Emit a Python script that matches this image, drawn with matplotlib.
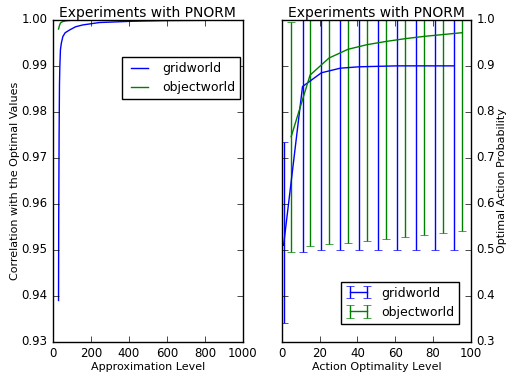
import matplotlib
matplotlib.use("Agg")
import matplotlib.pyplot as plt

# left panel: correlation vs approximation level
grid_x = [30, 31, 33, 35, 37, 40, 45, 53, 65, 88, 120, 158, 245, 420, 600, 800, 1000]
grid_y = [0.939, 0.957, 0.975, 0.986, 0.990, 0.9935, 0.995, 0.9964, 0.9972, 0.9978,
          0.9985, 0.9989, 0.99942, 0.9997, 0.99985, 0.9999, 0.99995]
obj_x = [30, 35, 40, 50, 70, 100, 200, 400, 1000]
obj_y = [0.998, 0.9988, 0.9993, 0.9996, 0.9998, 0.99992, 0.99998, 1.0, 1.0]

# right panel: optimal action probability vs action optimality level
grid_lvl = [1, 11, 21, 31, 41, 51, 61, 71, 81, 91]
grid_prob = [0.51, 0.855, 0.885, 0.895, 0.898, 0.899, 0.9, 0.9, 0.9, 0.9]
grid_err_lo = [0.168, 0.36, 0.385, 0.395, 0.398, 0.399, 0.4, 0.4, 0.4, 0.4]
grid_err_hi = [0.225, 0.36, 0.385, 0.395, 0.398, 0.399, 0.4, 0.4, 0.4, 0.4]
obj_lvl = [5, 15, 25, 35, 45, 55, 65, 75, 85, 95]
obj_prob = [0.746, 0.88, 0.917, 0.936, 0.946, 0.953, 0.959, 0.964, 0.968, 0.972]
obj_err = [0.25, 0.372, 0.405, 0.421, 0.426, 0.43, 0.431, 0.431, 0.431, 0.43]

plt.style.use("classic")
plt.rcParams["figure.facecolor"] = "white"
plt.rcParams["savefig.facecolor"] = "white"

fig = plt.figure(figsize=(5.08, 3.82), dpi=100)
ax1 = fig.add_axes([0.104, 0.105, 0.374, 0.843])
ax2 = fig.add_axes([0.5545, 0.105, 0.3726, 0.843])

ax1.plot(grid_x, grid_y, color="b", label="gridworld")
ax1.plot(obj_x, obj_y, color="g", label="objectworld")
ax1.set_xlim(0, 1000)
ax1.set_ylim(0.93, 1.0)
ax1.set_title("Experiments with PNORM", fontsize=10, pad=2)
ax1.set_xlabel("Approximation Level", fontsize=8, labelpad=1)
ax1.set_ylabel("Correlation with the Optimal Values", fontsize=8, labelpad=1)
ax1.tick_params(labelsize=8.5)
ax1.legend(loc="upper right", bbox_to_anchor=(0.985, 0.885), borderaxespad=0,
           fontsize=9)

ax2.errorbar(grid_lvl, grid_prob, yerr=[grid_err_lo, grid_err_hi], color="b",
             label="gridworld")
ax2.errorbar(obj_lvl, obj_prob, yerr=obj_err, color="g", label="objectworld")
ax2.set_xlim(0, 100)
ax2.set_ylim(0.3, 1.0)
ax2.yaxis.tick_right()
ax2.yaxis.set_ticks_position("both")
ax2.yaxis.set_label_position("right")
ax2.tick_params(labelleft=False, labelright=True, labelsize=8.5)
ax2.set_title("Experiments with PNORM", fontsize=10, pad=2)
ax2.set_xlabel("Action Optimality Level", fontsize=8, labelpad=1)
ax2.set_ylabel("Optimal Action Probability", fontsize=8, labelpad=1)
ax2.legend(loc="lower right", bbox_to_anchor=(0.937, 0.056), borderaxespad=0,
           fontsize=9)

fig.savefig("out.png", dpi=100)
